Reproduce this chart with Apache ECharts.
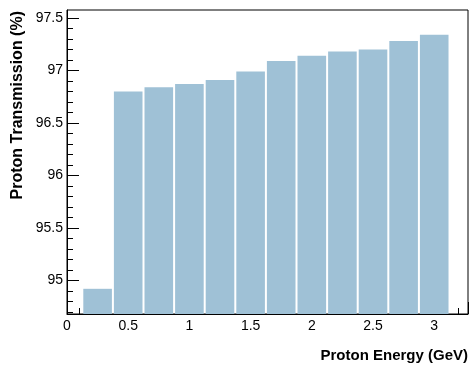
<!DOCTYPE html>
<html>
<head>
<meta charset="utf-8">
<script src="https://cdn.jsdelivr.net/npm/echarts@6/dist/echarts.min.js"></script>
<style>
    html, body { margin: 0; padding: 0; background: #fff; }
    #chart { width: 470px; height: 365px; }
</style>
</head>
<body>
<div id="chart"></div>
<script>
    // bin centres (GeV) and transmission (%)
    var energy = [0.25, 0.5, 0.75, 1.0, 1.25, 1.5, 1.75, 2.0, 2.25, 2.5, 2.75, 3.0];
    var transmission = [94.92, 96.80, 96.84, 96.87, 96.91, 96.99, 97.09, 97.14, 97.18, 97.20, 97.28, 97.34];
    var yMajorTicks = [95, 95.5, 96, 96.5, 97, 97.5];
    var yMinorTicks = [94.7, 94.8, 94.9, 95.1, 95.2, 95.3, 95.4, 95.6, 95.7, 95.8, 95.9,
        96.1, 96.2, 96.3, 96.4, 96.6, 96.7, 96.8, 96.9, 97.1, 97.2, 97.3, 97.4];
    var binWidth = 0.25;
    var yMin = 94.68, yMax = 97.576;
    var xMin = 0, xMax = 3.276;

    var points = energy.map(function (e, i) { return [e, transmission[i]]; });

    var myChart = echarts.init(document.getElementById('chart'));
    var font = 'Liberation Sans, Arial, sans-serif';
    var option = {
        animation: false,
        grid: {
            left: 67, right: 2, top: 10, bottom: 51,
            show: true,
            borderColor: '#000',
            borderWidth: 1,
            backgroundColor: 'transparent'
        },
        xAxis: {
            type: 'value',
            min: xMin,
            max: xMax,
            interval: 0.5,
            splitLine: {show: false},
            axisLine: {lineStyle: {color: '#000', width: 1}},
            axisTick: {inside: true, length: 12, lineStyle: {color: '#000'}},
            minorTick: {show: true, splitNumber: 5, length: 6, lineStyle: {color: '#000'}},
            axisLabel: {
                color: '#000', fontFamily: font, fontSize: 14, margin: 5,
                showMaxLabel: false,
                formatter: function (v) { return String(Math.round(v * 10) / 10); }
            }
        },
        yAxis: [{
            type: 'value',
            min: yMin,
            max: yMax,
            splitLine: {show: false},
            axisLine: {lineStyle: {color: '#000', width: 1}},
            axisTick: {inside: true, length: 12, customValues: yMajorTicks, lineStyle: {color: '#000'}},
            axisLabel: {
                color: '#000', fontFamily: font, fontSize: 14, margin: 4,
                customValues: yMajorTicks,
                formatter: function (v) { return String(Math.round(v * 10) / 10); }
            }
        }, {
            type: 'value',
            position: 'left',
            min: yMin,
            max: yMax,
            splitLine: {show: false},
            axisLine: {show: false},
            axisTick: {inside: true, length: 6, customValues: yMinorTicks, lineStyle: {color: '#000'}},
            axisLabel: {show: false}
        }],
        series: [{
            type: 'custom',
            clip: true,
            data: points,
            renderItem: function (params, api) {
                var x = api.value(0), y = api.value(1);
                var p1 = api.coord([x - binWidth / 2, y]);
                var p2 = api.coord([x + binWidth / 2, yMin]);
                return {
                    type: 'rect',
                    shape: {x: p1[0] + 1, y: p1[1], width: p2[0] - p1[0] - 2, height: p2[1] - p1[1]},
                    style: {fill: '#9fc1d6'}
                };
            }
        }],
        graphic: [
            {
                type: 'text', x: 18, y: 11, rotation: Math.PI / 2,
                style: {
                    text: 'Proton Transmission (%)', fill: '#000',
                    font: 'bold 16px ' + font, align: 'right', verticalAlign: 'middle'
                }
            },
            {
                type: 'text', x: 468, y: 356,
                style: {
                    text: 'Proton Energy (GeV)', fill: '#000',
                    font: 'bold 15px ' + font, align: 'right', verticalAlign: 'middle'
                }
            }
        ]
    };
    myChart.setOption(option);
</script>
</body>
</html>
